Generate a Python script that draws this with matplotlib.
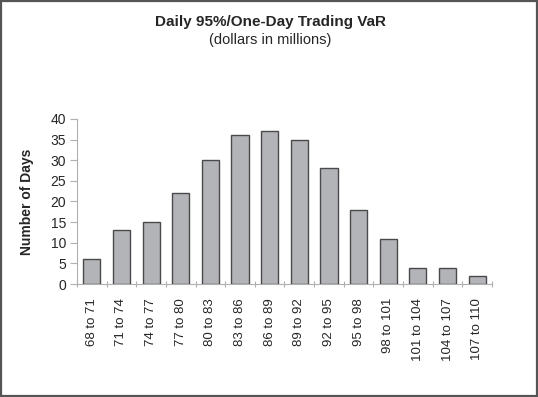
#!/usr/bin/env python3
"""Daily 95%/One-Day Trading VaR histogram (number of days per bucket)"""
import matplotlib
matplotlib.use("Agg")
import matplotlib.pyplot as plt
from matplotlib.patches import Rectangle

plt.rcParams["font.family"] = ["Liberation Sans", "DejaVu Sans"]

# buckets in $ millions
BUCKETS = ["68 to 71", "71 to 74", "74 to 77", "77 to 80", "80 to 83", "83 to 86",
           "86 to 89", "89 to 92", "92 to 95", "95 to 98", "98 to 101", "101 to 104",
           "104 to 107", "107 to 110"]
DAYS = [6, 13, 15, 22, 30, 36, 37, 35, 28, 18, 11, 4, 4, 2]
Y_TICKS = [0, 5, 10, 15, 20, 25, 30, 35, 40]

TEXT = "#262626"
AXIS = "#b0b0b0"

fig = plt.figure(figsize=(5.38, 3.97), dpi=100, facecolor="white")
ax = fig.add_axes([0.1431, 0.2846, 0.7714, 0.4157])

x = list(range(len(BUCKETS)))
ax.bar(x, DAYS, width=0.58, color="#b3b4b8", edgecolor="#4a4a4a", linewidth=1.0, zorder=3)

ax.set_xlim(-0.5, len(BUCKETS) - 0.5)
ax.set_ylim(0, 40)
ax.set_yticks(Y_TICKS)
ax.set_xticks(x)
ax.set_xticklabels(BUCKETS, rotation=90, fontsize=9.5, color=TEXT)
ax.set_xticks([i - 0.5 for i in range(len(BUCKETS) + 1)], minor=True)
ax.tick_params(axis="x", which="major", length=0, pad=10)
ax.tick_params(axis="x", which="minor", length=5, color=AXIS, width=0.8, direction="inout")
ax.tick_params(axis="y", length=5, color=AXIS, width=0.8, labelsize=10, labelcolor=TEXT, pad=3)

for side in ("top", "right"):
    ax.spines[side].set_visible(False)
for side in ("left", "bottom"):
    ax.spines[side].set_color(AXIS)
    ax.spines[side].set_linewidth(0.8)

ax.set_ylabel("Number of Days", fontsize=10, fontweight="bold", color=TEXT, labelpad=12)

fig.text(0.502, 0.945, "Daily 95%/One-Day Trading VaR", ha="center", va="center",
         fontsize=11, fontweight="bold", color=TEXT)
fig.text(0.502, 0.898, "(dollars in millions)", ha="center", va="center",
         fontsize=10.5, color=TEXT)

# outer frame
fig.patches.append(Rectangle((0.002, 0.003), 0.996, 0.994, transform=fig.transFigure,
                             fill=False, edgecolor="#555555", linewidth=1.6))

fig.savefig("out.png", dpi=100, facecolor=fig.get_facecolor())
